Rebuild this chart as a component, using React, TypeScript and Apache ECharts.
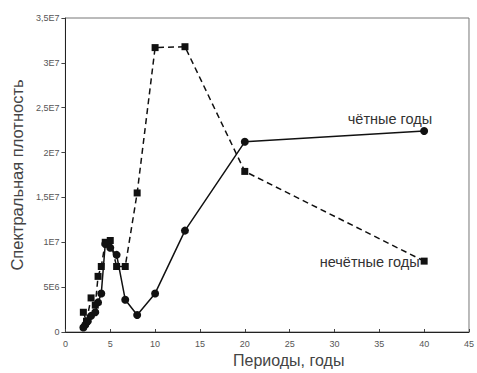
import React, { useEffect, useRef } from "react";
import * as echarts from "echarts";

const evenPeriods = [2.0, 2.22, 2.5, 2.86, 3.33, 3.64, 4.0, 4.44, 5.0, 5.71, 6.67, 8, 10, 13.33, 20, 40];
const evenValues = [0.5e6, 0.8e6, 1.2e6, 1.8e6, 2.2e6, 3.3e6, 4.3e6, 9.8e6, 9.4e6, 8.6e6, 3.6e6, 1.9e6, 4.3e6, 11.3e6, 21.2e6, 22.4e6];

const oddPeriods = [2.0, 2.35, 2.86, 3.33, 3.64, 4.0, 4.44, 5.0, 5.71, 6.67, 8, 10, 13.33, 20, 40];
const oddValues = [2.2e6, 1.2e6, 3.8e6, 3.0e6, 6.2e6, 7.3e6, 10.0e6, 10.2e6, 7.3e6, 7.3e6, 15.5e6, 31.7e6, 31.8e6, 17.9e6, 7.9e6];

const yTickLabels = ["0", "5E6", "1E7", "1,5E7", "2E7", "2,5E7", "3E7", "3,5E7"];
const xTickLabels = ["0", "5", "10", "15", "20", "25", "30", "35", "40", "45"];

const evenName = "чётные годы";
const oddName = "нечётные годы";
const xTitle = "Периоды, годы";
const yTitle = "Спектральная плотность";

export default function App() {
  const ref = useRef<HTMLDivElement>(null);
  useEffect(() => {
    if (!ref.current) return;
    const chart = echarts.init(ref.current, null, { renderer: "svg" });
    const font = "'Liberation Sans', Arial, sans-serif";
    const evenData = evenPeriods.map((p, i) => {
      const item: any = { value: [p, evenValues[i]] };
      if (i === evenPeriods.length - 1) {
        item.label = {
          show: true,
          position: "top",
          align: "right",
          distance: 1,
          offset: [8, 0],
          formatter: evenName,
          fontSize: 14.5,
          color: "#333",
          fontFamily: font,
        };
      }
      return item;
    });
    const oddData = oddPeriods.map((p, i) => {
      const item: any = { value: [p, oddValues[i]] };
      if (i === oddPeriods.length - 1) {
        item.label = {
          show: true,
          position: "left",
          distance: 1,
          offset: [0, 1],
          formatter: oddName,
          fontSize: 14.5,
          color: "#333",
          fontFamily: font,
        };
      }
      return item;
    });
    chart.setOption({
      animation: false,
      backgroundColor: "#ffffff",
      textStyle: { fontFamily: font },
      grid: {
        left: 62,
        right: 4,
        top: 18,
        bottom: 41,
        show: true,
        borderColor: "#777",
        borderWidth: 1,
      },
      xAxis: {
        type: "value",
        min: 0,
        max: 45,
        interval: 5,
        axisLine: { lineStyle: { color: "#222", width: 1 } },
        axisTick: { inside: true, length: 3, lineStyle: { color: "#444" } },
        axisLabel: {
          fontSize: 9,
          color: "#555",
          margin: 7,
          formatter: (v: number) => xTickLabels[Math.round(v / 5)] ?? "",
        },
        splitLine: { show: false },
      },
      yAxis: {
        type: "value",
        min: 0,
        max: 3.5e7,
        interval: 5e6,
        name: yTitle,
        nameLocation: "middle",
        nameGap: 36,
        nameTextStyle: { fontSize: 16.5, color: "#444", fontFamily: font },
        axisLine: { show: true, lineStyle: { color: "#222", width: 1 } },
        axisTick: { show: true, length: 4, lineStyle: { color: "#444" } },
        axisLabel: {
          fontSize: 9,
          color: "#555",
          margin: 6,
          formatter: (v: number) => yTickLabels[Math.round(v / 5e6)] ?? "",
        },
        splitLine: { show: false },
      },
      graphic: [
        {
          type: "text",
          left: 233,
          top: 352,
          style: { text: xTitle, fontSize: 16, fill: "#444", fontFamily: font },
        },
      ],
      series: [
        {
          type: "line",
          data: oddData,
          symbol: "rect",
          symbolSize: 7,
          itemStyle: { color: "#111" },
          lineStyle: { color: "#111", width: 1.5, type: [6, 4] },
          z: 2,
        },
        {
          type: "line",
          data: evenData,
          symbol: "circle",
          symbolSize: 8,
          itemStyle: { color: "#111" },
          lineStyle: { color: "#111", width: 1.5 },
          z: 3,
        },
      ],
    });
    return () => chart.dispose();
  }, []);
  return <div ref={ref} style={{ width: 477, height: 373, position: "absolute", left: 0, top: 0 }} />;
}
